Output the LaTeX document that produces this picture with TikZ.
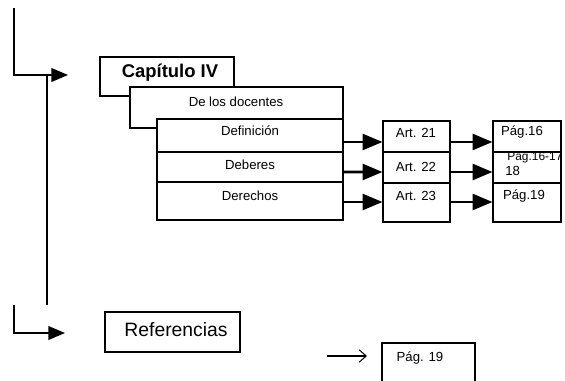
\documentclass[tikz,border=0pt]{standalone}
\usepackage{fontspec}
\setmainfont{Liberation Sans}
\usetikzlibrary{arrows,arrows.meta,calc,positioning}
\tikzset{IDX style/.style={>=triangle 45,every node/.style={inner sep=0pt}}}
\newcommand{\smalltxt}{\fontsize{7.5}{9}\selectfont}

\begin{document}
\begin{tikzpicture}[x=0.02cm,y=-0.02cm,IDX style]
	\tikzstyle{box}=[draw,fill=white,line width=0.8pt]
	\tikzstyle{lab}=[font=\smalltxt]
	\tikzstyle{big}=[->,line width=1.6pt]
	\clip (0,0) rectangle (565,381);

	% left rail
	\coordinate (top) at (14,8);
	\coordinate (tip1) at (68,75);
	\coordinate (vtop) at (47,75);
	\coordinate (vbot) at (47,305);
	\coordinate (bot) at (14,305);
	\coordinate (tip2) at (65,333);
	\draw[->,line width=1.2pt] (top) |- (tip1);
	\draw[line width=1.1pt] (vtop) -- (vbot);
	\draw[->,line width=1.2pt] (bot) |- (tip2);

	% chapter
	\node[box,minimum width=2.68cm,minimum height=0.78cm] (cap) at (167,76.5) {};
	\node[font=\bfseries\fontsize{10.5}{12}\selectfont] (captxt) at (170,73) {Capítulo IV};
	\node[box,minimum width=4.26cm,minimum height=0.82cm] (doc) at (236.5,107.5) {};
	\node[lab] (doctxt) at (236,102) {De los docentes};

	% sections
	\node[box,minimum width=3.72cm,minimum height=0.66cm] (def) at (250,135.5) {};
	\node[box,minimum width=3.72cm,minimum height=0.60cm] (deb) at (250,167) {};
	\node[box,minimum width=3.72cm,minimum height=0.76cm] (der) at (250,201) {};
	\node[lab] (deftxt) at (250,131) {Definición};
	\node[lab] (debtxt) at (250,165) {Deberes};
	\node[lab] (dertxt) at (250,196) {Derechos};

	% articles
	\node[box,minimum width=1.34cm,minimum height=0.62cm] (art1) at (416.5,136.5) {};
	\node[box,minimum width=1.34cm,minimum height=0.62cm] (art2) at (416.5,167.5) {};
	\node[box,minimum width=1.34cm,minimum height=0.78cm] (art3) at (416.5,202.5) {};
	\node[lab] (art1txt) at (416,133) {Art. 21};
	\node[lab] (art2txt) at (416,167) {Art. 22};
	\node[lab] (art3txt) at (416,196) {Art. 23};

	% pages
	\node[box,minimum width=1.36cm,minimum height=0.62cm] (pag1) at (527,136.5) {};
	\node[box,minimum width=1.36cm,minimum height=0.62cm] (pag2) at (527,167.5) {};
	\node[box,minimum width=1.36cm,minimum height=0.78cm] (pag3) at (527,202.5) {};
	\node[lab] (pag1txt) at (522,132) {Pág.16};
	\node[font=\fontsize{6.8}{8}\selectfont,anchor=west] (pag2txt) at (507,157) {Pág.16-17};
	\node[lab,anchor=west] (pag2b) at (505,171) {18};
	\node[lab] (pag3txt) at (524,196) {Pág.19};

	\path[big]
	($(def.east)+(0,6.5)$) edge ($(art1.west)+(0,5.5)$)
	($(deb.east)+(0,5)$) edge ($(art2.west)+(0,4.5)$)
	($(der.east)+(0,1)$) edge ($(art3.west)+(0,-0.5)$)
	($(art1.east)+(0,5.5)$) edge ($(pag1.west)+(0,5.5)$)
	($(art2.east)+(0,4.5)$) edge ($(pag2.west)+(0,4.5)$)
	($(art3.east)+(0,-0.5)$) edge ($(pag3.west)+(0,-0.5)$)
	;

	% references
	\node[box,minimum width=2.7cm,minimum height=0.8cm] (ref) at (172.5,332) {};
	\node[font=\fontsize{11}{13}\selectfont] (reftxt) at (176,330) {Referencias};
	\coordinate (rs) at (327,356);
	\coordinate (re) at (367,356);
	\draw[-{Straight Barb[length=4pt,width=7pt]},line width=0.6pt] (rs) -- (re);
	\node[box,minimum width=1.86cm,minimum height=1.14cm] (refpag) at (428.5,371.5) {};
	\node[lab] (refpagtxt) at (420,358) {Pág. 19};
\end{tikzpicture}
\end{document}
